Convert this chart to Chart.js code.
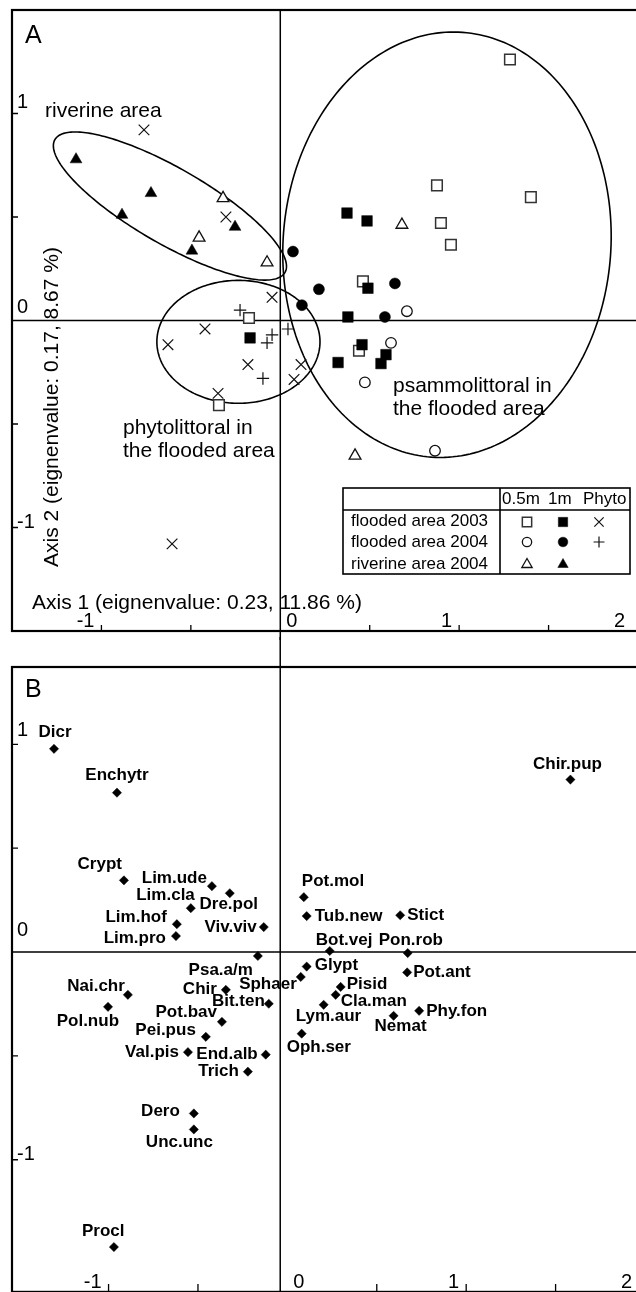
<!DOCTYPE html>
<html>
<head>
<meta charset="utf-8">
<script src="https://cdn.jsdelivr.net/npm/chart.js@4.4.1/dist/chart.umd.min.js"></script>
<style>
  html, body { margin: 0; padding: 0; background: #fff; overflow: hidden; }
  #wrap { position: relative; width: 636px; height: 1292px; overflow: hidden; }
  canvas { position: absolute; left: 0; }
  #chartA { top: 0; }
  #chartB { top: 637px; }
</style>
</head>
<body>
<div id="wrap">
  <canvas id="chartA" width="660" height="640"></canvas>
  <canvas id="chartB" width="660" height="660"></canvas>
</div>
<script>
// ---------- Panel A: sample scores [axis 1, axis 2] ----------
const flooded2003_05m = [[1.284,1.261],[0.876,0.653],[1.401,0.596],[0.898,0.471],[0.954,0.366],[0.462,0.189],[-0.175,0.012],[0.440,-0.146],[-0.343,-0.409]];
const flooded2003_1m = [[0.373,0.519],[0.485,0.481],[0.490,0.156],[0.378,0.017],[-0.169,-0.084],[0.457,-0.117],[0.591,-0.165],[0.563,-0.208],[0.323,-0.203]];
const flooded2003_phyto = [[-0.762,0.921],[-0.304,0.500],[-0.046,0.112],[-0.421,-0.041],[-0.628,-0.117],[-0.181,-0.213],[0.116,-0.213],[0.077,-0.285],[-0.348,-0.352],[-0.605,-1.079]];
const flooded2004_05m = [[0.708,0.045],[0.619,-0.108],[0.473,-0.299],[0.865,-0.629]];
const flooded2004_1m = [[0.071,0.333],[0.216,0.151],[0.121,0.074],[0.641,0.179],[0.585,0.017]];
const flooded2004_phyto = [[-0.225,0.050],[-0.046,-0.069],[-0.074,-0.108],[0.043,-0.041],[-0.097,-0.280]];
const riverine2004_05m = [[-0.320,0.591],[-0.454,0.400],[-0.074,0.280],[0.680,0.462],[0.418,-0.653]];
const riverine2004_1m = [[-1.142,0.778],[-0.723,0.615],[-0.885,0.510],[-0.253,0.452],[-0.494,0.337]];

// group envelopes: centre and two conjugate semi-axes, in axis units
const envelopes = [
  { c: [-0.617, 0.553], a: [0.643, -0.321], b: [0.106, 0.158] },  // riverine area
  { c: [-0.234, -0.103], a: [0.456, 0], b: [0, 0.297] },          // phytolittoral
  { c: [0.932, 0.366], a: [0.914, -0.056], b: [0.087, 1.026] }    // psammolittoral
];

const legendRows = ['flooded area 2003', 'flooded area 2004', 'riverine area 2004'];
const legendCols = ['0.5m', '1m', 'Phyto'];

// ---------- Panel B: taxa scores ----------
const taxa = ['Dicr','Enchytr','Crypt','Lim.ude','Dre.pol','Lim.cla','Lim.hof','Viv.viv','Lim.pro','Psa.a/m',
  'Chir.pup','Pot.mol','Tub.new','Stict','Bot.vej','Pon.rob','Glypt','Sphaer','Pot.ant','Pisid',
  'Cla.man','Chir','Bit.ten','Lym.aur','Phy.fon','Nemat','Pot.bav','Pei.pus','Oph.ser','Val.pis',
  'End.alb','Trich','Nai.chr','Pol.nub','Dero','Unc.unc','Procl'];
const taxaAxis1 = [-1.305,-0.953,-0.914,-0.422,-0.322,-0.540,-0.618,-0.132,-0.623,-0.165,
  1.583,0.092,0.108,0.631,0.237,0.673,0.108,0.075,0.670,0.298,
  0.270,-0.344,-0.104,0.203,0.737,0.594,-0.366,-0.456,0.080,-0.556,
  -0.121,-0.221,-0.892,-1.003,-0.523,-0.523,-0.970];
const taxaAxis2 = [0.978,0.767,0.345,0.317,0.283,0.211,0.134,0.120,0.077,-0.019,
  0.830,0.264,0.173,0.177,0.005,-0.005,-0.070,-0.120,-0.098,-0.168,
  -0.206,-0.182,-0.249,-0.254,-0.283,-0.307,-0.336,-0.408,-0.393,-0.482,
  -0.494,-0.576,-0.206,-0.264,-0.777,-0.854,-1.420];

// tick labels and tick marks
const xTickLabels = [-1, 0, 1, 2];
const yTickLabels = [1, 0, -1];
const xTickMarks = [-1, -0.5, 0.5, 1, 1.5];
const yTickMarks = [-1, -0.5, 0.5, 1];

// ---------- styling / placement ----------
const FONT = '"Liberation Sans", Arial, sans-serif';

// label placement for taxa: [align, dx, dy] in px from the marker
const labelPlace = {
  'Dicr': ['center', 1, -17], 'Enchytr': ['center', 0, -17], 'Crypt': ['right', -2, -16],
  'Lim.ude': ['right', -5, -8], 'Dre.pol': ['center', -1, 11], 'Lim.cla': ['right', 4, -13],
  'Lim.hof': ['right', -10, -7], 'Viv.viv': ['right', -7, 0], 'Lim.pro': ['right', -10, 2],
  'Psa.a/m': ['right', -5, 14], 'Chir.pup': ['center', -3, -15], 'Pot.mol': ['left', -2, -16],
  'Tub.new': ['left', 8, 0], 'Stict': ['left', 7, 0], 'Bot.vej': ['left', -14, -11],
  'Pon.rob': ['left', -29, -13], 'Glypt': ['left', 8, -1], 'Sphaer': ['right', -4, 7],
  'Pot.ant': ['left', 6, 0], 'Pisid': ['left', 6, -3], 'Cla.man': ['left', 5, 6],
  'Chir': ['right', -9, -1], 'Bit.ten': ['right', -4, -2], 'Lym.aur': ['left', -28, 12],
  'Phy.fon': ['left', 7, 0], 'Nemat': ['left', -19, 11], 'Pot.bav': ['right', -5, -10],
  'Pei.pus': ['right', -10, -6], 'Oph.ser': ['left', -15, 14], 'Val.pis': ['right', -9, 0],
  'End.alb': ['right', -8, 0], 'Trich': ['right', -9, 0], 'Nai.chr': ['right', -3, -9],
  'Pol.nub': ['right', 11, 14], 'Dero': ['right', -14, -2], 'Unc.unc': ['left', -48, 13],
  'Procl': ['left', -32, -16]
};

const styleA = [
  { pointStyle: 'rect', radius: 7.5, fill: '#fff', stroke: '#333', bw: 1.5 },
  { pointStyle: 'rect', radius: 7.5, fill: '#000', stroke: '#000', bw: 0.5 },
  { pointStyle: 'crossRot', radius: 7.5, fill: '#000', stroke: '#111', bw: 1.2 },
  { pointStyle: 'circle', radius: 5.3, fill: '#fff', stroke: '#111', bw: 1.3 },
  { pointStyle: 'circle', radius: 5.5, fill: '#000', stroke: '#000', bw: 0.5 },
  { pointStyle: 'cross', radius: 6.2, fill: '#000', stroke: '#111', bw: 1.2 },
  { pointStyle: 'triangle', radius: 6.8, fill: '#fff', stroke: '#111', bw: 1.3 },
  { pointStyle: 'triangle', radius: 6.8, fill: '#000', stroke: '#000', bw: 0.5 }
];
const seriesA = [flooded2003_05m, flooded2003_1m, flooded2003_phyto,
                 flooded2004_05m, flooded2004_1m, flooded2004_phyto,
                 riverine2004_05m, riverine2004_1m];

function drawSymbol(ctx, st, x, y) {
  ctx.save();
  ctx.fillStyle = st.fill;
  ctx.strokeStyle = st.stroke;
  ctx.lineWidth = st.bw;
  if (Chart.helpers && Chart.helpers.drawPoint) {
    Chart.helpers.drawPoint(ctx, { pointStyle: st.pointStyle, radius: st.radius, borderWidth: st.bw, rotation: 0 }, x, y);
  }
  ctx.restore();
}

function axesPlugin(cfg) {
  return {
    id: 'axes' + cfg.name,
    beforeDatasetsDraw(chart) {
      const { ctx, chartArea: a, scales: { x, y } } = chart;
      ctx.save();
      ctx.strokeStyle = '#000';
      ctx.lineWidth = 1.5;
      const zx = x.getPixelForValue(cfg.vLineAt);
      const zy = y.getPixelForValue(0);
      ctx.beginPath();
      ctx.moveTo(zx, cfg.vTop);
      ctx.lineTo(zx, chart.height);
      ctx.moveTo(a.left, zy);
      ctx.lineTo(a.right, zy);
      ctx.stroke();

      ctx.lineWidth = 1.3;
      ctx.beginPath();
      xTickMarks.forEach(v => {
        const px = x.getPixelForValue(v);
        ctx.moveTo(px, a.bottom); ctx.lineTo(px, a.bottom - cfg.tickLen);
      });
      yTickMarks.forEach(v => {
        const py = y.getPixelForValue(v);
        ctx.moveTo(a.left, py); ctx.lineTo(a.left + 6, py);
      });
      ctx.stroke();

      ctx.lineWidth = 2.2;
      ctx.strokeRect(a.left, a.top, a.right - a.left, a.bottom - a.top);

      // tick labels
      ctx.fillStyle = '#000';
      ctx.font = '20px ' + FONT;
      ctx.textBaseline = 'alphabetic';
      xTickLabels.forEach(v => {
        const px = x.getPixelForValue(v);
        if (v === 0) {
          ctx.textAlign = 'left';
          ctx.fillText('0', px + 6, a.bottom - 4);
        } else {
          ctx.textAlign = 'right';
          ctx.fillText(String(v), px + (v === 2 ? -13 : -7), a.bottom - 4);
        }
      });
      ctx.textAlign = 'left';
      yTickLabels.forEach(v => {
        ctx.fillText(String(v), 17, y.getPixelForValue(v) + cfg.yLabelDy[String(v)]);
      });

      // panel letter
      ctx.font = '25px ' + FONT;
      ctx.fillText(cfg.name, 25, a.top + cfg.letterDy);

      if (cfg.envelopes) {
        ctx.lineWidth = 1.6;
        cfg.envelopes.forEach(e => {
          ctx.beginPath();
          for (let i = 0; i <= 240; i++) {
            const t = i / 240 * Math.PI * 2;
            const vx = e.c[0] + e.a[0] * Math.cos(t) + e.b[0] * Math.sin(t);
            const vy = e.c[1] + e.a[1] * Math.cos(t) + e.b[1] * Math.sin(t);
            const px = x.getPixelForValue(vx), py = y.getPixelForValue(vy);
            if (i === 0) ctx.moveTo(px, py); else ctx.lineTo(px, py);
          }
          ctx.closePath();
          ctx.stroke();
        });
      }
      ctx.restore();
    }
  };
}

const textsA = {
  id: 'textsA',
  afterDatasetsDraw(chart) {
    const { ctx } = chart;
    ctx.save();
    ctx.fillStyle = '#000';
    ctx.textBaseline = 'alphabetic';
    ctx.textAlign = 'left';
    ctx.font = '21px ' + FONT;
    ctx.fillText('riverine area', 45, 117);
    ctx.fillText('phytolittoral in', 123, 434);
    ctx.fillText('the flooded area', 123, 457);
    ctx.fillText('psammolittoral in', 393, 392);
    ctx.fillText('the flooded area', 393, 415);
    ctx.fillText('Axis 1 (eignenvalue: 0.23, 11.86 %)', 32, 609);
    ctx.save();
    ctx.translate(58, 407);
    ctx.rotate(-Math.PI / 2);
    ctx.textAlign = 'center';
    ctx.fillText('Axis 2 (eignenvalue: 0.17, 8.67 %)', 0, 0);
    ctx.restore();

    // legend table
    ctx.fillStyle = '#fff';
    ctx.fillRect(343, 488, 287, 86);
    ctx.strokeStyle = '#000';
    ctx.lineWidth = 1.6;
    ctx.strokeRect(343, 488, 287, 86);
    ctx.beginPath();
    ctx.moveTo(343, 510); ctx.lineTo(630, 510);
    ctx.moveTo(500, 488); ctx.lineTo(500, 574);
    ctx.stroke();
    ctx.fillStyle = '#000';
    ctx.font = '17px ' + FONT;
    const colX = [502, 548, 583];
    legendCols.forEach((c, i) => ctx.fillText(c, colX[i], 504));
    const rowBase = [526, 547, 569];
    legendRows.forEach((r, i) => ctx.fillText(r, 351, rowBase[i]));
    const symX = [527, 563, 599];
    const symY = [522, 542, 563];
    styleA.forEach((st, i) => {
      const row = Math.floor(i / 3), col = i % 3;
      drawSymbol(ctx, Object.assign({}, st, { radius: st.radius * 0.88 }), symX[col], symY[row] + (st.pointStyle === 'triangle' ? 1.5 : 0));
    });
    ctx.restore();
  }
};

const labelsB = {
  id: 'labelsB',
  afterDatasetsDraw(chart) {
    const { ctx } = chart;
    const meta = chart.getDatasetMeta(0);
    ctx.save();
    ctx.fillStyle = '#000';
    ctx.font = 'bold 17px ' + FONT;
    ctx.textBaseline = 'middle';
    meta.data.forEach((pt, i) => {
      const p = labelPlace[taxa[i]] || ['left', 6, 0];
      ctx.textAlign = p[0];
      ctx.fillText(taxa[i], pt.x + p[1], pt.y + p[2]);
    });
    ctx.restore();
  }
};

Chart.defaults.font.family = FONT;

const toXY = arr => arr.map(([x, y]) => ({ x, y }));

new Chart(document.getElementById('chartA'), {
  type: 'scatter',
  data: {
    datasets: seriesA.map((s, i) => ({
      data: toXY(s),
      pointStyle: styleA[i].pointStyle,
      pointRadius: styleA[i].radius,
      pointBackgroundColor: styleA[i].fill,
      pointBorderColor: styleA[i].stroke,
      pointBorderWidth: styleA[i].bw,
      order: seriesA.length - i
    }))
  },
  options: {
    responsive: false,
    animation: false,
    devicePixelRatio: 1,
    events: [],
    layout: { padding: { left: 12, top: 10, right: 22, bottom: 3 } },
    plugins: { legend: { display: false }, tooltip: { enabled: false } },
    scales: {
      x: { type: 'linear', min: -1.5, max: 2, display: false },
      y: { type: 'linear', min: -1.5, max: 1.5, display: false }
    }
  },
  plugins: [axesPlugin({ name: 'A', vLineAt: 0, vTop: 10, tickLen: 6, yLabelDy: { '1': -6, '0': -8, '-1': 0 }, letterDy: 33, envelopes }), textsA]
});

new Chart(document.getElementById('chartB'), {
  type: 'scatter',
  data: {
    datasets: [{
      data: taxa.map((t, i) => ({ x: taxaAxis1[i], y: taxaAxis2[i] })),
      pointStyle: 'rectRot',
      pointRadius: 4.6,
      pointBackgroundColor: '#000',
      pointBorderColor: '#000',
      pointBorderWidth: 0.5
    }]
  },
  options: {
    responsive: false,
    animation: false,
    devicePixelRatio: 1,
    events: [],
    layout: { padding: { left: 12, top: 30, right: 15, bottom: 3 } },
    plugins: { legend: { display: false }, tooltip: { enabled: false } },
    scales: {
      x: { type: 'linear', min: -1.54, max: 2, display: false },
      y: { type: 'linear', min: -1.636, max: 1.372, display: false }
    }
  },
  plugins: [axesPlugin({ name: 'B', vLineAt: -0.04, vTop: 0, tickLen: 8, yLabelDy: { '1': -8, '0': -16, '-1': 0 }, letterDy: 30 }), labelsB]
});
</script>
</body>
</html>
